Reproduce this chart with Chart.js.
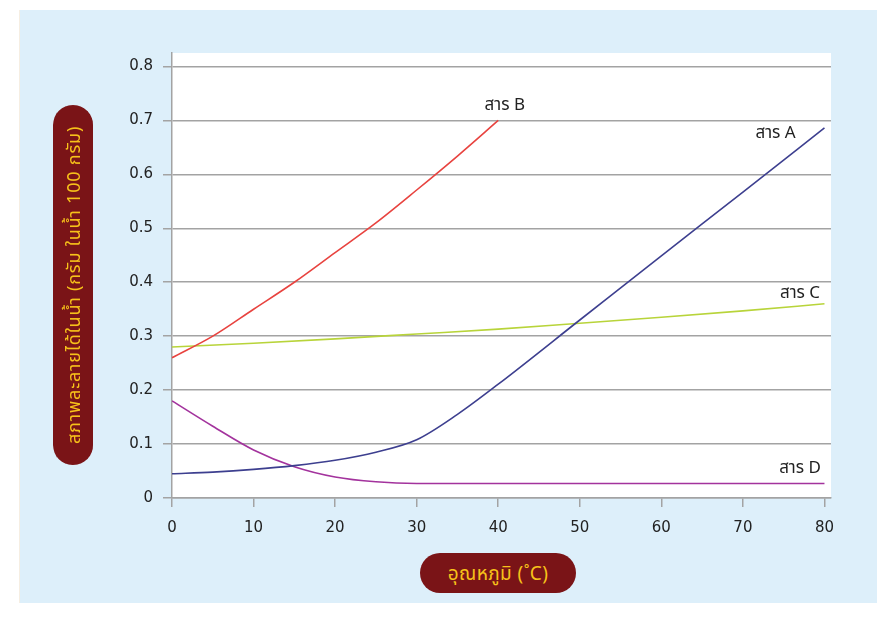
<!DOCTYPE html>
<html>
<head>
<meta charset="utf-8">
<script src="https://cdn.jsdelivr.net/npm/chart.js@4/dist/chart.umd.min.js"></script>
<style>
  html, body { margin: 0; padding: 0; background: #fff; }
  body { width: 893px; height: 618px; position: relative; overflow: hidden;
         font-family: "Noto Sans", "Noto Sans Thai", "DejaVu Sans", sans-serif; }
  #panel { position: absolute; left: 19px; top: 10px; width: 857px; height: 593px;
           background: #ddeffa; border-left: 1px solid #f6eee2; }
  #wrap { position: absolute; left: 0; top: 0; width: 893px; height: 618px; }
  .pill { position: absolute; background: #7a1417; color: #f7c21a;
          border-radius: 20px; text-align: center; white-space: nowrap; }
  #ytitle { left: -107px; top: 265px; width: 360px; height: 40px; line-height: 40px;
            font-size: 18px; letter-spacing: 0.8px; transform: rotate(-90deg); }
  #xtitle { left: 420px; top: 553px; width: 156px; height: 40px; line-height: 40px;
            font-size: 19px; letter-spacing: 0.4px; }
</style>
</head>
<body>
<div id="panel"></div>
<div id="wrap"><canvas id="chart"></canvas></div>
<div class="pill" id="ytitle">สภาพละลายได้ในน้ำ (กรัม ในน้ำ 100 กรัม)</div>
<div class="pill" id="xtitle">อุณหภูมิ (˚C)</div>
<script>
'use strict';

// ─── Data ────────────────────────────────────────────────────────────────────
const tempA = [0, 5, 10, 15, 20, 25, 30, 35, 40, 50, 60, 70, 80];
const solA  = [0.045, 0.048, 0.053, 0.060, 0.070, 0.085, 0.108, 0.155, 0.211, 0.330, 0.449, 0.567, 0.686];

const tempB = [0, 5, 10, 15, 20, 25, 30, 35, 40];
const solB  = [0.26, 0.30, 0.35, 0.40, 0.455, 0.51, 0.571, 0.634, 0.70];

const tempC = [0, 10, 20, 30, 40, 50, 60, 70, 80];
const solC  = [0.280, 0.287, 0.295, 0.304, 0.313, 0.324, 0.335, 0.347, 0.360];

const tempD = [0, 5, 10, 15, 20, 25, 30, 40, 50, 60, 70, 80];
const solD  = [0.18, 0.133, 0.089, 0.058, 0.039, 0.030, 0.027, 0.027, 0.027, 0.027, 0.027, 0.027];

const seriesNames = ['สาร A', 'สาร B', 'สาร C', 'สาร D'];
// label anchor points in data units (temperature, solubility)
const labelTemp = [74.0, 40.8, 77.0, 77.0];
const labelSol  = [0.677, 0.729, 0.380, 0.056];

const xTicks = [0, 10, 20, 30, 40, 50, 60, 70, 80];
const yTicks = [0, 0.1, 0.2, 0.3, 0.4, 0.5, 0.6, 0.7, 0.8];

const colors = ['#3d3f8f', '#e8433f', '#b8d43a', '#a3339d'];

const toPoints = (xs, ys) => xs.map((x, i) => ({ x, y: ys[i] }));

// ─── Plugins ─────────────────────────────────────────────────────────────────
const plotBackground = {
  id: 'plotBackground',
  beforeDraw(chart) {
    const { ctx, chartArea: a } = chart;
    ctx.save();
    ctx.fillStyle = '#ffffff';
    ctx.fillRect(a.left, a.top, a.right - a.left, a.bottom - a.top);
    ctx.restore();
  },
};

const seriesLabels = {
  id: 'seriesLabels',
  afterDatasetsDraw(chart) {
    const { ctx, scales } = chart;
    ctx.save();
    ctx.font = '17px "Noto Sans", "Noto Sans Thai", "DejaVu Sans", sans-serif';
    ctx.fillStyle = '#222';
    ctx.textAlign = 'center';
    ctx.textBaseline = 'middle';
    seriesNames.forEach((name, i) => {
      ctx.fillText(name, scales.x.getPixelForValue(labelTemp[i]), scales.y.getPixelForValue(labelSol[i]));
    });
    ctx.restore();
  },
};

// ─── Chart ───────────────────────────────────────────────────────────────────
const gridGrey = '#a3a3a3';
const tickFont = { family: '"DejaVu Sans", sans-serif', size: 15 };

new Chart(document.getElementById('chart'), {
  type: 'line',
  data: {
    datasets: [
      toPoints(tempA, solA),
      toPoints(tempB, solB),
      toPoints(tempC, solC),
      toPoints(tempD, solD),
    ].map((pts, i) => ({
      label:       seriesNames[i],
      data:        pts,
      borderColor: colors[i],
      borderWidth: 1.6,
      pointRadius: 0,
      fill:        false,
      cubicInterpolationMode: 'monotone',
    })),
  },
  options: {
    animation:  false,
    responsive: true,
    maintainAspectRatio: false,
    layout: { padding: { left: 112, right: 62, top: 53, bottom: 60 } },
    plugins: {
      legend:  { display: false },
      tooltip: { enabled: false },
    },
    scales: {
      x: {
        type: 'linear',
        min: 0,
        max: 80.8,
        afterFit: (s) => { s.height = 60; },
        afterBuildTicks: (s) => { s.ticks = xTicks.map((v) => ({ value: v })); },
        grid:   { drawOnChartArea: false, drawTicks: true, tickLength: 9, color: gridGrey, lineWidth: 1.5 },
        border: { color: gridGrey, width: 1.5 },
        ticks:  { color: '#222', font: tickFont, padding: 12, maxRotation: 0 },
      },
      y: {
        min: 0,
        max: 0.825,
        afterFit: (s) => { s.width = 60; },
        afterBuildTicks: (s) => { s.ticks = yTicks.map((v) => ({ value: v })); },
        grid:   { color: gridGrey, lineWidth: 1.5, tickLength: 9 },
        border: { color: gridGrey, width: 1.5 },
        ticks:  {
          color: '#222',
          font: tickFont,
          padding: 10,
          callback: (v) => (v === 0 ? '0' : v.toFixed(1)),
        },
      },
    },
  },
  plugins: [plotBackground, seriesLabels],
});
</script>
</body>
</html>
